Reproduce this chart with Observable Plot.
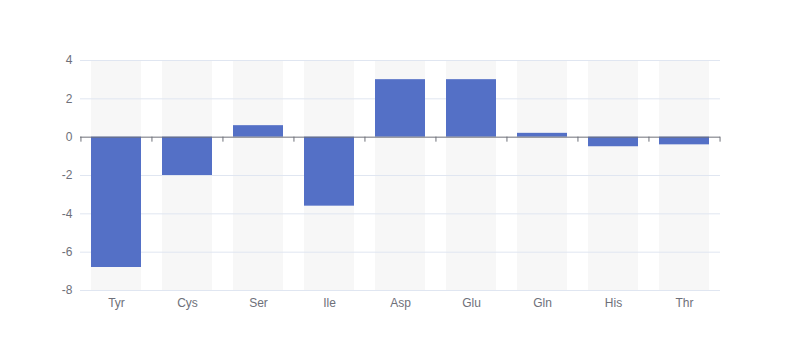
<!DOCTYPE html>
<html>
<head>
<meta charset="utf-8">
<script src="https://cdn.jsdelivr.net/npm/d3@7"></script>
<script src="https://cdn.jsdelivr.net/npm/@observablehq/plot@0.6"></script>
<style>
  html, body { margin: 0; padding: 0; background: #fff; }
  #chart { width: 800px; height: 360px; }
  svg { font-family: sans-serif; }
</style>
</head>
<body>
<div id="chart"></div>
<script>
const categories = ["Tyr", "Cys", "Ser", "Ile", "Asp", "Glu", "Gln", "His", "Thr"];
const values = [-6.8, -2.0, 0.6, -3.6, 3.0, 3.0, 0.2, -0.5, -0.4];
const yTicks = [-8, -6, -4, -2, 0, 2, 4];
const yMin = -8, yMax = 4;

const data = categories.map((c, i) => ({cat: c, v: values[i]}));

const W = 800, H = 360, mL = 80, mR = 80, mT = 60, mB = 70;
const step = (W - mL - mR) / categories.length;
const tickLen = 5 * (yMax - yMin) / (H - mT - mB);

const chart = Plot.plot({
  width: W,
  height: H,
  marginLeft: mL,
  marginRight: mR,
  marginTop: mT,
  marginBottom: mB,
  style: {fontSize: "12px", color: "#6E7079", background: "#fff"},
  x: {domain: categories, paddingInner: 0.3, paddingOuter: 0.15, label: null},
  y: {domain: [yMin, yMax], label: null},
  marks: [
    Plot.barY(data, {x: "cat", y1: yMin, y2: yMax, fill: "#f7f7f7"}),
    Plot.ruleY(yTicks.filter(t => t !== 0), {stroke: "#E0E6F1"}),
    Plot.barY(data, {x: "cat", y1: 0, y2: "v", fill: "#5470C6"}),
    Plot.ruleY([0], {stroke: "#6E7079"}),
    Plot.ruleX(data, {x: "cat", y1: 0, y2: -tickLen, dx: -step / 2, stroke: "#6E7079"}),
    Plot.ruleX(data.slice(-1), {x: "cat", y1: 0, y2: -tickLen, dx: step / 2, stroke: "#6E7079"}),
    Plot.axisY({ticks: yTicks, tickFormat: d => String(d), tickSize: 0, tickPadding: 8, fill: "#6E7079", label: null}),
    Plot.axisX({tickSize: 0, tickPadding: 8, fill: "#6E7079", label: null})
  ]
});
document.getElementById("chart").appendChild(chart);
</script>
</body>
</html>
